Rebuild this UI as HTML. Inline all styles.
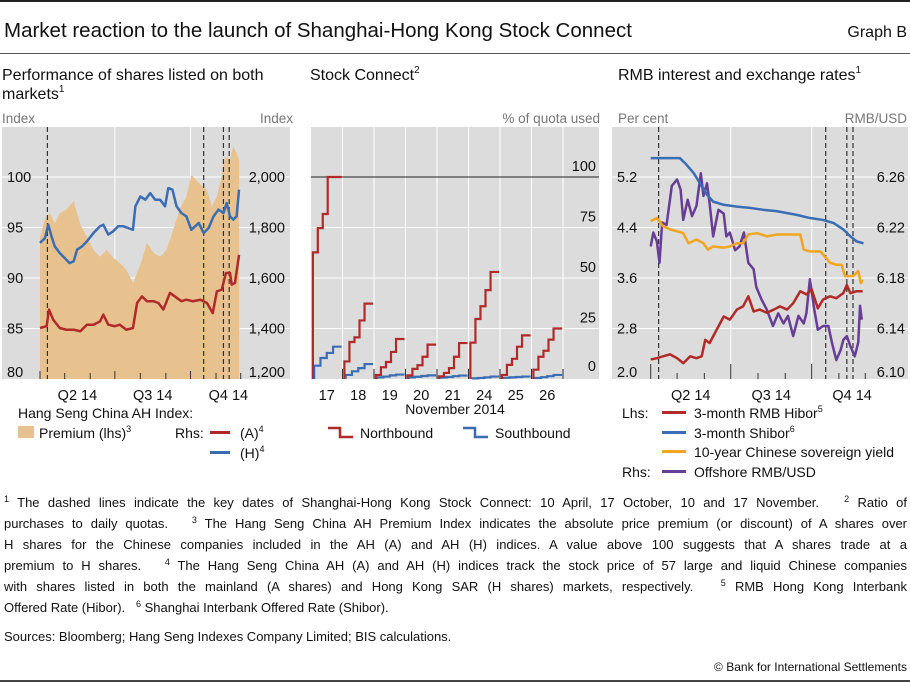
<!DOCTYPE html>
<html><head><meta charset="utf-8">
<style>
body{margin:0;background:#fff;width:910px;height:683px;overflow:hidden;font-family:"Liberation Sans",sans-serif;}
svg{position:absolute;left:0;top:0;}
.fn{position:absolute;left:4px;width:903px;font-size:13px;line-height:21px;color:#111;text-align:justify;text-align-last:justify;white-space:nowrap;}
.fn sup{font-size:9px;vertical-align:5px;line-height:0;}
</style></head><body>
<svg id="chart" width="910" height="683" xmlns="http://www.w3.org/2000/svg" font-family="Liberation Sans, sans-serif">
<rect x="0" y="0" width="910" height="2" fill="#222"/>
<text x="4" y="37" font-size="20.5" fill="#111">Market reaction to the launch of Shanghai-Hong Kong Stock Connect</text>
<text x="907" y="37" font-size="16" fill="#111" text-anchor="end">Graph B</text>
<rect x="0" y="53" width="910" height="1" fill="#555"/>
<text x="2" y="80" font-size="16" fill="#111">Performance of shares listed on both</text>
<text x="2" y="99" font-size="16" fill="#111">markets<tspan font-size="10" dy="-7">1</tspan></text>
<text x="310" y="80" font-size="16" fill="#111">Stock Connect<tspan font-size="10" dy="-7">2</tspan></text>
<text x="618" y="80" font-size="16" fill="#111">RMB interest and exchange rates<tspan font-size="10" dy="-7">1</tspan></text>
<text x="2" y="123" font-size="13.5" fill="#777">Index</text>
<text x="293" y="123" font-size="13.5" fill="#777" text-anchor="end">Index</text>
<text x="600" y="123" font-size="13.5" fill="#777" text-anchor="end">% of quota used</text>
<text x="618" y="123" font-size="13.5" fill="#777">Per cent</text>
<text x="907" y="123" font-size="13.5" fill="#777" text-anchor="end">RMB/USD</text>
<g id="p1"></g>
<g id="p2"></g>
<g id="p3"></g>
<g font-size="14" fill="#111">
<text x="18" y="418">Hang Seng China AH Index:</text>
<rect x="18" y="426" width="16" height="12" fill="#e8c28e"/>
<text x="39" y="438">Premium (lhs)<tspan font-size="9" dy="-6">3</tspan></text>
<text x="175" y="438">Rhs:</text>
<rect x="210" y="431" width="20" height="3" fill="#b02a2a"/>
<text x="240" y="438">(A)<tspan font-size="9" dy="-6">4</tspan></text>
<rect x="210" y="451" width="20" height="3" fill="#3a6db3"/>
<text x="240" y="458">(H)<tspan font-size="9" dy="-6">4</tspan></text>
</g>
<g font-size="14" fill="#111">
<text x="455" y="414" text-anchor="middle">November 2014</text>
<path d="M328,428 H340 V437 H353" fill="none" stroke="#b02a2a" stroke-width="2.5"/>
<text x="360" y="438">Northbound</text>
<path d="M463,428 H475 V437 H488" fill="none" stroke="#3a6db3" stroke-width="2.5"/>
<text x="495" y="438">Southbound</text>
</g>
<g font-size="14" fill="#111">
<text x="622" y="418">Lhs:</text>
<rect x="662" y="411" width="24" height="3" fill="#b02a2a"/>
<text x="694" y="418">3-month RMB Hibor<tspan font-size="9" dy="-6">5</tspan></text>
<rect x="662" y="431" width="24" height="3" fill="#3a6db3"/>
<text x="694" y="438">3-month Shibor<tspan font-size="9" dy="-6">6</tspan></text>
<rect x="662" y="450" width="24" height="3" fill="#f2a51e"/>
<text x="694" y="457">10-year Chinese sovereign yield</text>
<text x="622" y="477">Rhs:</text>
<rect x="662" y="470" width="24" height="3" fill="#673d96"/>
<text x="694" y="477">Offshore RMB/USD</text>
</g>
<text x="907" y="671" font-size="12" fill="#111" text-anchor="end">© Bank for International Settlements</text>
<rect x="0" y="680" width="910" height="2" fill="#444"/>
</svg>
<div class="fn" style="top:492px"><sup>1</sup> The dashed lines indicate the key dates of Shanghai-Hong Kong Stock Connect: 10 April, 17 October, 10 and 17 November. &nbsp; <sup>2</sup> Ratio of</div>
<div class="fn" style="top:513px">purchases to daily quotas. &nbsp; <sup>3</sup> The Hang Seng China AH Premium Index indicates the absolute price premium (or discount) of A shares over</div>
<div class="fn" style="top:534px">H shares for the Chinese companies included in the AH (A) and AH (H) indices. A value above 100 suggests that A shares trade at a</div>
<div class="fn" style="top:555px">premium to H shares. &nbsp; <sup>4</sup> The Hang Seng China AH (A) and AH (H) indices track the stock price of 57 large and liquid Chinese companies</div>
<div class="fn" style="top:576px">with shares listed in both the mainland (A shares) and Hong Kong SAR (H shares) markets, respectively. &nbsp; <sup>5</sup> RMB Hong Kong Interbank</div>
<div class="fn" style="top:597px;text-align-last:left">Offered Rate (Hibor). &nbsp; <sup>6</sup> Shanghai Interbank Offered Rate (Shibor).</div>
<div class="fn" style="top:626px;text-align-last:left">Sources: Bloomberg; Hang Seng Indexes Company Limited; BIS calculations.</div>
<script>
const p1LeftTicks = [80, 85, 90, 95, 100];
const p1RightTicks = ["1,200", "1,400", "1,600", "1,800", "2,000"];
const p1RightTickValues = [1200, 1400, 1600, 1800, 2000];
const quarterLabels = ["Q2 14", "Q3 14", "Q4 14"];
const quarterBoundDays = [0, 91, 183, 275];
const monthTickDays = [0, 30, 61, 91, 122, 153, 183, 214, 244];
const keyDateDays = [9, 199, 223, 230];
const premiumDays = [0,6,12,18,24,32,41,49,57,65,73,81,89,97,105,113,118,124,130,138,146,154,162,170,178,184,190,197,203,209,215,221,225,231,235,239,242];
const premiumValues = [94.1,95.8,96.4,95.4,96.4,96.8,97.6,95.3,94.1,92.8,92.1,92.8,92.0,91.5,90.8,89.5,90.5,91.8,93.5,92.5,92.1,92.8,94.8,96.8,98.1,100.2,99.7,99.1,98.7,97.1,98.1,100.1,102.0,101.7,103.0,102.4,101.7];
const hDays = [0,6,10,14,18,24,30,36,41,45,51,57,65,73,77,83,89,95,101,107,113,116,122,128,134,140,146,152,156,161,166,172,178,184,193,199,205,211,217,223,227,231,235,239,242];
const hValues = [1739,1758,1811,1765,1725,1699,1679,1659,1666,1712,1725,1745,1778,1805,1811,1772,1785,1805,1805,1798,1791,1884,1923,1910,1936,1910,1910,1884,1956,1950,1884,1857,1844,1791,1818,1778,1798,1844,1871,1857,1897,1844,1831,1844,1950];
const aDays = [0,8,11,16,24,32,41,49,57,65,73,77,83,91,97,105,113,118,124,130,138,144,150,158,164,172,178,186,195,203,210,215,221,226,231,233,237,242];
const aValues = [1402,1409,1475,1435,1402,1395,1395,1389,1415,1415,1428,1455,1415,1409,1415,1395,1402,1501,1527,1508,1508,1501,1475,1541,1527,1508,1514,1508,1514,1501,1461,1547,1554,1620,1620,1574,1580,1692];

const p2Days = ["17","18","19","20","21","24","25","26"];
const p2Ticks = [0, 25, 50, 75, 100];
const northbound = [
  [62.7,74.7,81.7,100],
  [8.7,18.3,20.6,29,37.3],
  [2,5.8,8.4,13.4,19.8],
  [1.8,5,6.8,11,17],
  [1.3,3,5.4,11,17.8],
  [18,29.7,36,44,53],
  [2,7,10,16,21.6],
  [4.6,11,14,19.5,25]
];
const southbound = [
  [6.6,10.4,12.9,16],
  [2,3.8,5.4,7.4],
  [0.8,1.2,1.8,2.2],
  [0.8,1.1,1.5,1.8],
  [0.7,1.0,1.4,1.7],
  [0.3,0.5,0.8,1.2],
  [0.6,0.8,1.0,1.2],
  [0.5,0.9,1.4,2.0]
];

const p3LeftTicks = ["2.0","2.8","3.6","4.4","5.2"];
const p3LeftTickValues = [2.0, 2.8, 3.6, 4.4, 5.2];
const p3RightTicks = ["6.10","6.14","6.18","6.22","6.26"];
const p3RightTickValues = [6.10, 6.14, 6.18, 6.22, 6.26];
const shiborDays = [0,33,39,49,56,64,71,83,98,113,128,143,166,181,196,208,219,227,234,242];
const shiborValues = [5.50,5.50,5.42,5.26,5.10,4.92,4.81,4.76,4.73,4.71,4.68,4.66,4.60,4.55,4.52,4.47,4.37,4.26,4.18,4.15];
const yieldDays = [0,7,14,22,30,37,43,52,60,65,71,83,90,98,105,111,121,132,144,159,170,174,181,193,198,204,211,217,221,230,236,239,241];
const yieldValues = [4.50,4.55,4.42,4.37,4.34,4.31,4.15,4.21,4.15,4.05,4.10,4.08,4.10,4.15,4.15,4.29,4.31,4.26,4.29,4.29,4.29,4.05,4.02,4.02,3.94,3.84,3.81,3.81,3.63,3.63,3.71,3.52,3.57];
const hiborDays = [0,7,14,22,30,37,45,52,58,62,67,75,83,90,98,105,111,117,124,132,140,147,155,162,170,177,183,190,196,204,211,219,223,227,234,241];
const hiborValues = [2.31,2.33,2.36,2.39,2.33,2.25,2.36,2.33,2.36,2.62,2.57,2.78,2.99,2.94,3.10,3.15,3.31,3.07,3.10,3.05,3.10,3.15,3.10,3.20,3.39,3.34,3.42,3.12,3.26,3.31,3.28,3.36,3.49,3.36,3.39,3.39];
const rmbDays = [0,3,7,10,13,18,24,30,34,37,42,47,52,57,60,64,67,71,77,83,86,90,96,101,106,111,117,120,126,132,139,145,151,156,162,168,174,177,181,186,190,196,202,206,211,216,219,223,227,232,236,238,240];
const rmbValues = [6.205,6.216,6.209,6.192,6.224,6.222,6.253,6.258,6.250,6.226,6.242,6.229,6.237,6.263,6.245,6.255,6.239,6.213,6.234,6.231,6.213,6.216,6.202,6.205,6.216,6.192,6.187,6.173,6.163,6.155,6.142,6.152,6.144,6.150,6.134,6.150,6.144,6.152,6.179,6.155,6.139,6.142,6.142,6.129,6.115,6.123,6.131,6.134,6.126,6.118,6.129,6.158,6.147];

const NS = "http://www.w3.org/2000/svg";
function mk(parent, tag, attrs) {
  const e = document.createElementNS(NS, tag);
  for (const k in attrs) e.setAttribute(k, attrs[k]);
  parent.appendChild(e);
  return e;
}
const TOP = 127, BOT = 379;

(function(){
  const g = document.getElementById('p1');
  const x = d => 40 + d * (200.7 / 244);
  const yL = v => BOT - (v - 80) * 10.1;
  const yR = v => BOT - (v - 1200) * 0.2525;
  let r = mk(g, 'rect', {x:2, y:TOP, width:288, height:BOT-TOP, fill:'#dcdcdc'});
  
  
  p1LeftTicks.forEach((v,i) => {
    if (i > 0) {
      let l = mk(g, 'line', {x1:2, x2:290, y1:yL(v), y2:yL(v), stroke:'#fff', 'stroke-width':1});
      
      
    }
    let t = mk(g, 'text', {x:7, y:yL(v)+5 - (i===0?7:0), 'font-size':14.5, fill:'#111'});
    t.textContent = v;
    
    
  });
  p1RightTickValues.forEach((v,i) => {
    let t = mk(g, 'text', {x:285, y:yR(v)+5 - (i===0?7:0), 'font-size':14.5, fill:'#111', 'text-anchor':'end'});
    t.textContent = p1RightTicks[i];
    
    
  });
  [1,2].forEach(i => {
    let l = mk(g, 'line', {x1:x(quarterBoundDays[i]), x2:x(quarterBoundDays[i]), y1:TOP, y2:BOT, stroke:'#fff', 'stroke-width':1});
    
    
  });
  let pts = premiumDays.map((d,i) => x(d)+','+yL(premiumValues[i]));
  let poly = mk(g, 'polygon', {points: x(premiumDays[0])+','+BOT+' '+pts.join(' ')+' '+x(premiumDays[premiumDays.length-1])+','+BOT, fill:'#e8c28e'});
  
  
  monthTickDays.forEach((d,i) => {
    let q = (i % 3 === 0);
    let l = mk(g, 'line', {x1:x(d), x2:x(d), y1:q?BOT-8:BOT-6, y2:BOT, stroke:'#333', 'stroke-width':1});
    
    
  });
  quarterLabels.forEach((s,i) => {
    let t = mk(g, 'text', {x:(x(quarterBoundDays[i])+x(quarterBoundDays[i+1]))/2, y:400, 'font-size':14.5, fill:'#111', 'text-anchor':'middle'});
    t.textContent = s;
    
    
  });
  keyDateDays.forEach(d => {
    let l = mk(g, 'line', {x1:x(d), x2:x(d), y1:TOP, y2:BOT, stroke:'#333', 'stroke-width':1.2, 'stroke-dasharray':'5,3'});
    
    
  });
  let pa = mk(g, 'polyline', {points: aDays.map((d,i)=>x(d)+','+yR(aValues[i])).join(' '), fill:'none', stroke:'#b02a2a', 'stroke-width':2.5, 'stroke-linejoin':'round'});
  
  
  let ph = mk(g, 'polyline', {points: hDays.map((d,i)=>x(d)+','+yR(hValues[i])).join(' '), fill:'none', stroke:'#3a6db3', 'stroke-width':2.5, 'stroke-linejoin':'round'});
  
  
})();

(function(){
  const g = document.getElementById('p2');
  const dayW = 31.5, x0 = 311;
  const x = (i,f) => x0 + dayW * (i + f);
  const y = v => BOT - v * 2.02;
  let r = mk(g, 'rect', {x:311, y:TOP, width:288, height:BOT-TOP, fill:'#dcdcdc'});
  
  
  for (let i = 1; i <= p2Days.length; i++) {
    let l = mk(g, 'line', {x1:x(i,0), x2:x(i,0), y1:TOP, y2:BOT, stroke:'#fff', 'stroke-width':1});
    
    
  }
  p2Ticks.forEach((v,i) => {
    if (i > 0) {
      let l = mk(g, 'line', {x1:311, x2:599, y1:y(v), y2:y(v), stroke: v===100?'#222':'#fff', 'stroke-width':1});
      
      
    }
    let t = mk(g, 'text', {x:596, y:y(v)-6 - (i===0?2:0), 'font-size':14.5, fill:'#111', 'text-anchor':'end'});
    t.textContent = v;
    
    
  });
  p2Days.forEach((s,i) => {
    if (i > 0) {
      let l = mk(g, 'line', {x1:x(i,0), x2:x(i,0), y1:BOT-10, y2:BOT, stroke:'#333', 'stroke-width':1});
      
      
    }
    let t = mk(g, 'text', {x:x(i,0.5), y:400, 'font-size':14.5, fill:'#111', 'text-anchor':'middle'});
    t.textContent = s;
    
    
  });
  let l8 = mk(g, 'line', {x1:x(8,0), x2:x(8,0), y1:BOT-10, y2:BOT, stroke:'#333', 'stroke-width':1});
  
  
  function stepPath(i, vals, start, span) {
    const n = vals.length;
    let d = 'M' + x(i, start) + ',' + y(0);
    vals.forEach((v,k) => {
      const f = start + span * k / (n - 1);
      d += ' H' + x(i, f) + ' V' + y(v);
    });
    d += ' H' + x(i, 0.97);
    return d;
  }
  southbound.forEach((vals,i) => {
    let p = mk(g, 'path', {d: stepPath(i, vals, 0.1, 0.6), fill:'none', stroke:'#3a6db3', 'stroke-width':2.2});
    
    
  });
  northbound.forEach((vals,i) => {
    let p = mk(g, 'path', {d: stepPath(i, vals, 0.06, vals.length===4?0.47:0.64), fill:'none', stroke:'#b02a2a', 'stroke-width':2.2});
    
    
  });
})();

(function(){
  const g = document.getElementById('p3');
  const x = d => 650.7 + d * (214.6 / 244);
  const yL = v => BOT - (v - 2) * 63.125;
  const yR = v => BOT - (v - 6.10) * 1262.5;
  let r = mk(g, 'rect', {x:612, y:TOP, width:296, height:BOT-TOP, fill:'#dcdcdc'});
  
  
  p3LeftTickValues.forEach((v,i) => {
    if (i > 0) {
      let l = mk(g, 'line', {x1:612, x2:908, y1:yL(v), y2:yL(v), stroke:'#fff', 'stroke-width':1});
      
      
    }
    let t = mk(g, 'text', {x:617, y:yL(v)+5 - (i===0?7:0), 'font-size':14.5, fill:'#111'});
    t.textContent = p3LeftTicks[i];
    
    
  });
  p3RightTickValues.forEach((v,i) => {
    let t = mk(g, 'text', {x:905, y:yR(v)+5 - (i===0?7:0), 'font-size':14.5, fill:'#111', 'text-anchor':'end'});
    t.textContent = p3RightTicks[i];
    
    
  });
  [1,2].forEach(i => {
    let l = mk(g, 'line', {x1:x(quarterBoundDays[i]), x2:x(quarterBoundDays[i]), y1:TOP, y2:BOT, stroke:'#fff', 'stroke-width':1});
    
    
  });
  monthTickDays.forEach((d,i) => {
    let q = (i % 3 === 0);
    let l = mk(g, 'line', {x1:x(d), x2:x(d), y1:q?BOT-15:BOT-6, y2:BOT, stroke:'#333', 'stroke-width':1});
    
    
  });
  quarterLabels.forEach((s,i) => {
    let t = mk(g, 'text', {x:(x(quarterBoundDays[i])+x(quarterBoundDays[i+1]))/2, y:400, 'font-size':14.5, fill:'#111', 'text-anchor':'middle'});
    t.textContent = s;
    
    
  });
  keyDateDays.forEach(d => {
    let l = mk(g, 'line', {x1:x(d), x2:x(d), y1:TOP, y2:BOT, stroke:'#333', 'stroke-width':1.2, 'stroke-dasharray':'5,3'});
    
    
  });
  function line(days, vals, yf, color, name) {
    let p = mk(g, 'polyline', {points: days.map((d,i)=>x(d)+','+yf(vals[i])).join(' '), fill:'none', stroke:color, 'stroke-width':2.5, 'stroke-linejoin':'round'});
    
    
  }
  line(rmbDays, rmbValues, yR, '#673d96', 'series-offshore-rmb-usd');
  line(hiborDays, hiborValues, yL, '#b02a2a', 'series-rmb-hibor');
  line(yieldDays, yieldValues, yL, '#f2a51e', 'series-10y-yield');
  line(shiborDays, shiborValues, yL, '#3a6db3', 'series-shibor');
})();
</script>
</body></html>
